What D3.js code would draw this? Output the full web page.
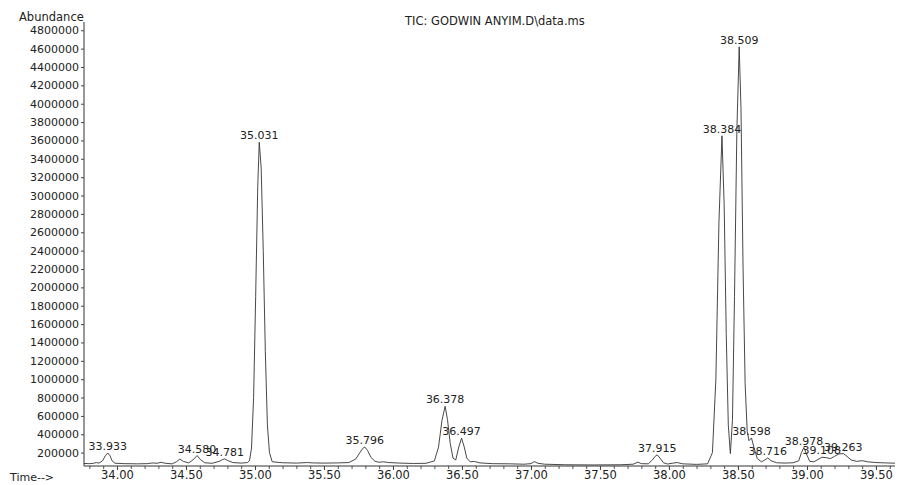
<!DOCTYPE html>
<html>
<head>
<meta charset="utf-8">
<script src="https://cdn.jsdelivr.net/npm/d3@7"></script>
<style>
  body { margin: 0; background: #fff; }
  text { font-family: "DejaVu Sans", sans-serif; fill: #222; }
</style>
</head>
<body>
<div id="chart"></div>
<script>
// TIC chromatogram, retention time (min) vs abundance
const times = [
  33.761, 33.80, 33.83, 33.85, 33.87, 33.895, 33.915, 33.933, 33.95, 33.965, 33.985,
  34.05, 34.15, 34.22, 34.26, 34.29, 34.32, 34.35, 34.40, 34.43, 34.455, 34.48, 34.52,
  34.55, 34.58, 34.605, 34.635, 34.69, 34.74, 34.765, 34.781, 34.80, 34.84, 34.90, 34.945,
  34.96, 34.975, 34.99, 35.005, 35.02, 35.031, 35.045, 35.06, 35.075, 35.09, 35.105, 35.125,
  35.2, 35.3, 35.38, 35.42, 35.5, 35.6, 35.68, 35.73, 35.76, 35.78, 35.796, 35.815, 35.84,
  35.87, 35.9, 35.93, 35.97, 36.05, 36.15, 36.24, 36.30, 36.33, 36.355, 36.378, 36.395,
  36.415, 36.435, 36.455, 36.475, 36.497, 36.515, 36.535, 36.56, 36.59, 36.63, 36.72,
  36.85, 36.95, 37.00, 37.025, 37.05, 37.10, 37.25, 37.45, 37.65, 37.74, 37.775, 37.80,
  37.85, 37.88, 37.90, 37.915, 37.935, 37.96, 37.99, 38.03, 38.06, 38.10, 38.20, 38.28,
  38.315, 38.34, 38.362, 38.384, 38.40, 38.415, 38.43, 38.445, 38.46, 38.475, 38.492,
  38.509, 38.522, 38.537, 38.552, 38.567, 38.58, 38.598, 38.615, 38.64, 38.67, 38.695,
  38.716, 38.74, 38.78, 38.84, 38.90, 38.94, 38.96, 38.978, 38.995, 39.02, 39.05, 39.08,
  39.108, 39.14, 39.17, 39.2, 39.23, 39.263, 39.29, 39.32, 39.36, 39.40, 39.44, 39.50,
  39.57, 39.638
];
const abundance = [
  82000, 80000, 84000, 92000, 86000, 110000, 165000, 196000, 165000, 110000, 85000,
  80000, 78000, 80000, 88000, 84000, 95000, 84000, 78000, 100000, 130000, 105000, 88000,
  120000, 168000, 125000, 90000, 84000, 105000, 125000, 132000, 115000, 92000, 86000, 92000,
  110000, 250000, 800000, 1900000, 3100000, 3580000, 3300000, 2400000, 1300000, 500000, 200000, 100000,
  90000, 86000, 92000, 88000, 86000, 88000, 92000, 130000, 200000, 245000, 261000, 225000, 150000,
  105000, 95000, 100000, 92000, 86000, 82000, 84000, 110000, 260000, 550000, 705000, 560000,
  300000, 140000, 120000, 250000, 358000, 270000, 140000, 100000, 104000, 88000, 80000,
  78000, 74000, 80000, 102000, 84000, 74000, 68000, 66000, 68000, 74000, 96000, 80000,
  78000, 120000, 160000, 176000, 140000, 90000, 76000, 86000, 92000, 78000, 72000, 78000,
  200000, 1000000, 2700000, 3650000, 2900000, 1500000, 500000, 190000, 550000, 1900000, 3700000,
  4620000, 3950000, 2200000, 950000, 430000, 330000, 360000, 260000, 135000, 100000, 120000,
  142000, 112000, 90000, 86000, 90000, 110000, 200000, 255000, 190000, 105000, 100000, 125000,
  150000, 145000, 135000, 160000, 185000, 190000, 160000, 120000, 105000, 112000, 100000, 92000,
  88000, 85000
];

// labelled peaks
const peakTimes = [33.933, 34.58, 34.781, 35.031, 35.796, 36.378, 36.497, 37.915,
                   38.384, 38.509, 38.598, 38.716, 38.978, 39.108, 39.263];
const peakLabels = ["33.933", "34.580", "34.781", "35.031", "35.796", "36.378", "36.497", "37.915",
                    "38.384", "38.509", "38.598", "38.716", "38.978", "39.108", "39.263"];

const yTicks = [200000, 400000, 600000, 800000, 1000000, 1200000, 1400000, 1600000,
                1800000, 2000000, 2200000, 2400000, 2600000, 2800000, 3000000, 3200000,
                3400000, 3600000, 3800000, 4000000, 4200000, 4400000, 4600000, 4800000];
const xTicks = [34.00, 34.50, 35.00, 35.50, 36.00, 36.50, 37.00, 37.50, 38.00, 38.50, 39.00, 39.50];

const width = 906, height = 485;
const plotLeft = 84, plotRight = 895, plotTop = 22, axisY = 466;

const svg = d3.select("#chart").append("svg")
  .attr("width", width)
  .attr("height", height);

svg.append("rect").attr("width", width).attr("height", height).attr("fill", "#fff");

const x = d3.scaleLinear().domain([33.761, 39.638]).range([plotLeft, plotRight]);
const y = d3.scaleLinear().domain([0, 4890000]).range([471, plotTop]);

// y axis
const yAxis = svg.append("g")
  .attr("transform", `translate(${plotLeft},0)`)
  .call(d3.axisLeft(y).tickValues(yTicks).tickSize(3).tickPadding(2).tickFormat(d3.format("d")));
yAxis.select(".domain").attr("d", `M0,${plotTop}V${axisY}`).attr("stroke", "#333");
yAxis.selectAll("line").attr("stroke", "#444");
yAxis.selectAll("text").style("font-size", "11px").attr("fill", "#222");

// x axis: minor ticks every 0.1 min, labelled every 0.5
const minor = d3.range(33.8, 39.65, 0.1).map(d => Math.round(d * 10) / 10);
svg.append("g")
  .attr("transform", `translate(0,${axisY})`)
  .call(d3.axisBottom(x).tickValues(minor).tickSize(3).tickFormat(""))
  .call(g => g.select(".domain").remove())
  .selectAll("line").attr("stroke", "#555");

const xAxis = svg.append("g")
  .attr("transform", `translate(0,${axisY})`)
  .call(d3.axisBottom(x).tickValues(xTicks).tickSize(4).tickPadding(1).tickFormat(d3.format(".2f")));
xAxis.select(".domain").attr("d", `M${plotLeft},0H${plotRight}`).attr("stroke", "#333");
xAxis.selectAll("line").attr("stroke", "#444");
xAxis.selectAll("text").style("font-size", "11.5px").attr("fill", "#222");

// trace
const series = times.map((t, i) => ({ t, v: abundance[i] }));
svg.append("path")
  .datum(series)
  .attr("fill", "none")
  .attr("stroke", "#333")
  .attr("stroke-width", 0.9)
  .attr("d", d3.line().x(d => x(d.t)).y(d => y(d.v)));

// peak labels
svg.append("g").selectAll("text")
  .data(peakTimes)
  .join("text")
  .attr("x", d => x(d))
  .attr("y", d => y(abundance[times.indexOf(d)]) - 3)
  .attr("text-anchor", "middle")
  .style("font-size", "11px")
  .text((d, i) => peakLabels[i]);

// titles
svg.append("text").attr("x", 19).attr("y", 21).style("font-size", "11.5px").text("Abundance");
svg.append("text").attr("x", 405).attr("y", 25).style("font-size", "11.5px").text("TIC: GODWIN ANYIM.D\\data.ms");
svg.append("text").attr("x", 10).attr("y", 481).style("font-size", "11px").text("Time-->");
</script>
</body>
</html>
